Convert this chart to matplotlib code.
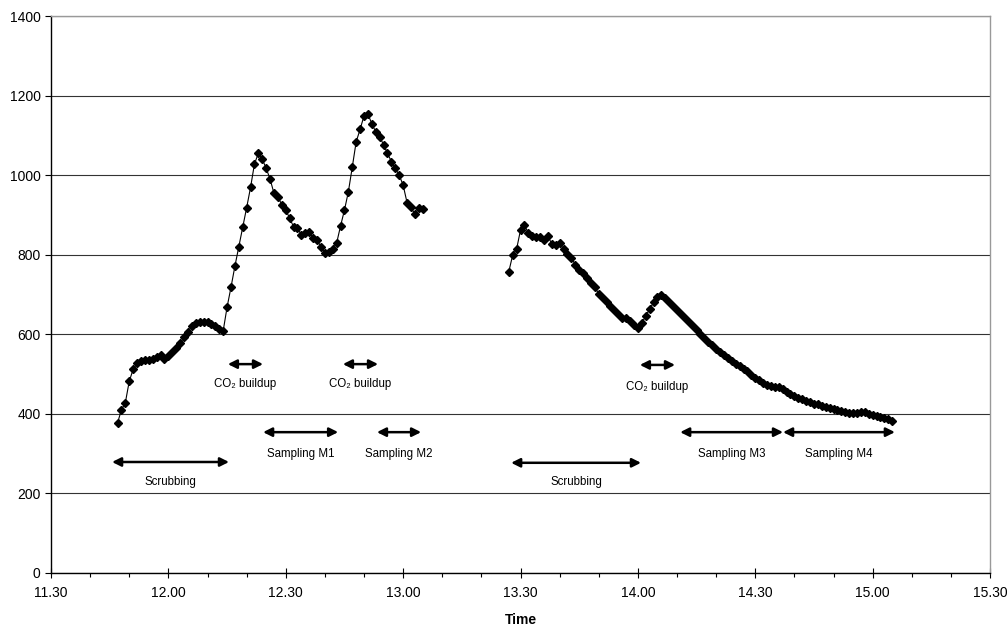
import matplotlib
matplotlib.use("Agg")
import matplotlib.pyplot as plt
from matplotlib.ticker import MultipleLocator, FuncFormatter
import numpy as np

plt.rcParams['font.family'] = ['Liberation Sans', 'DejaVu Sans']

# CO2 readings, one sample per minute
run1_start = "11:47"
run1_co2 = [377, 410, 428, 482, 512, 527, 532, 535, 535, 538,
            542, 548, 537, 545, 555, 565, 578, 592, 607, 620,
            628, 632, 631, 630, 626, 620, 614, 608, 668, 718,
            771, 820, 869, 918, 969, 1028, 1055, 1040, 1017, 990,
            954, 946, 925, 912, 892, 870, 866, 850, 855, 858,
            841, 837, 820, 805, 808, 815, 829, 872, 912, 958,
            1020, 1084, 1115, 1149, 1154, 1129, 1109, 1097, 1076, 1055,
            1034, 1017, 1000, 975, 931, 919, 902, 917, 914]

run2_start = "13:27"
run2_co2 = [757, 799, 814, 862, 875, 854, 847, 845, 845, 837,
            847, 827, 824, 830, 814, 802, 792, 775, 762, 755,
            742, 728, 718, 702, 690, 682, 672, 660, 650, 642,
            640, 634, 624, 617, 628, 646, 663, 680, 693, 699,
            690, 680, 670, 660, 650, 640, 630, 620, 610, 601,
            591, 581, 572, 564, 556, 548, 540, 533, 526, 520,
            514, 508, 497, 490, 486, 478, 472, 470, 467, 468,
            462, 456, 451, 446, 441, 437, 433, 430, 426, 424,
            420, 418, 415, 411, 409, 406, 404, 402, 401, 402,
            404, 405, 400, 397, 395, 392, 389, 386, 383]

# phases: label, start, end (clock), arrow level, label level
phase_labels = ["Scrubbing", "CO\u2082 buildup", "CO\u2082 buildup", "Sampling M1", "Sampling M2",
                "Scrubbing", "CO\u2082 buildup", "Sampling M3", "Sampling M4"]
phase_start = ["11:45.6", "12:15.2", "12:44.6", "12:24.2", "12:53.3",
               "13:27.6", "14:00.5", "14:10.8", "14:37.1"]
phase_end = ["12:15.5", "12:24.2", "12:53.6", "12:43.4", "13:04.6",
             "14:00.8", "14:09.5", "14:37.1", "15:05.7"]
phase_arrow_y = [279, 525, 525, 354, 354, 277, 523, 354, 354]
phase_text_y = [229, 475, 475, 299, 299, 229, 467, 299, 299]


def clock(s):
    h, m = s.split(":")
    return int(h) * 60 + float(m)


t1 = clock(run1_start) + np.arange(len(run1_co2))
t2 = clock(run2_start) + np.arange(len(run2_co2))

fig = plt.figure(figsize=(10.07, 6.27), dpi=100)
ax = fig.add_axes([51 / 1007, 1 - 573 / 627, (990 - 51) / 1007, (573 - 16) / 627])

for t, v in [(t1, run1_co2), (t2, run2_co2)]:
    ax.plot(t, v, color='black', lw=0.8, marker='D', ms=4.2, mfc='black', mec='black', zorder=3)

for lab, s, e, ya, yt in zip(phase_labels, phase_start, phase_end, phase_arrow_y, phase_text_y):
    x0, x1 = clock(s), clock(e)
    ax.annotate("", xy=(x1, ya), xytext=(x0, ya),
                arrowprops=dict(arrowstyle='<|-|>', color='black', lw=1.8,
                                mutation_scale=13, shrinkA=0, shrinkB=0))
    ax.text((x0 + x1) / 2, yt, lab, ha='center', va='center', fontsize=8.3)

ax.set_xlim(clock("11:30"), clock("15:30"))
ax.set_ylim(0, 1400)
ax.yaxis.set_major_locator(MultipleLocator(200))
ax.xaxis.set_major_locator(MultipleLocator(30))
ax.xaxis.set_minor_locator(MultipleLocator(10))
ax.xaxis.set_major_formatter(FuncFormatter(lambda x, p: "%d.%02d" % (int(x) // 60, int(round(x)) % 60)))

ax.grid(axis='y', color='#333333', lw=0.8)
ax.set_axisbelow(True)
ax.tick_params(axis='x', which='major', direction='inout', length=7, width=0.8, labelsize=10, pad=6)
ax.tick_params(axis='x', which='minor', direction='out', length=3, width=0.8)
ax.tick_params(axis='y', direction='out', length=4, width=0.8, labelsize=10)

for side in ['left', 'bottom']:
    ax.spines[side].set_color('black')
    ax.spines[side].set_linewidth(1.0)
for side in ['right', 'top']:
    ax.spines[side].set_color('#999999')
    ax.spines[side].set_linewidth(1.0)

ax.set_xlabel("Time", fontsize=10, fontweight='bold', labelpad=9)

fig.savefig("out.png", dpi=100)
